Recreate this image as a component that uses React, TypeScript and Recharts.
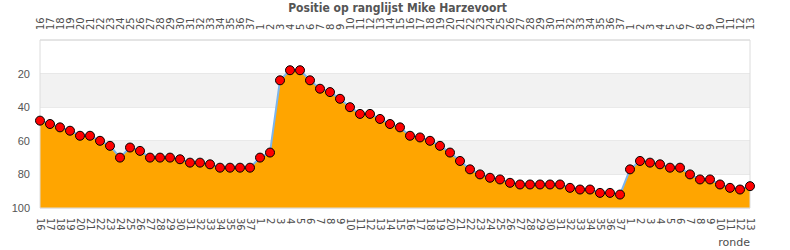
import {
  Area,
  AreaChart,
  CartesianGrid,
  ReferenceArea,
  XAxis,
  YAxis,
} from "recharts";

const TITLE = "Positie op ranglijst Mike Harzevoort";

// rounds per season, in order
const season1Rounds = [
  "16", "17", "18", "19", "20", "21", "22", "23", "24", "25", "26",
  "27", "28", "29", "30", "31", "32", "33", "34", "35", "36", "37",
];
const season2Rounds = [
  "1", "2", "3", "4", "5", "6", "7", "8", "9", "10", "11", "12", "13",
  "14", "15", "16", "17", "18", "19", "20", "21", "22", "23", "24", "25",
  "26", "27", "28", "29", "30", "31", "32", "33", "34", "35", "36", "37",
];
const season3Rounds = [
  "1", "2", "3", "4", "5", "6", "7", "8", "9", "10", "11", "12", "13",
];

// position on the ranking, per round
const season1Positions = [
  48, 50, 52, 54, 57, 57, 60, 63, 70, 64, 66, 70, 70, 70, 71, 73, 73, 74, 76,
  76, 76, 76,
];
const season2Positions = [
  70, 67, 24, 18, 18, 24, 29, 31, 35, 40, 44, 44, 47, 50, 52, 57, 58, 60, 63,
  67, 72, 77, 80, 82, 83, 85, 86, 86, 86, 86, 86, 88, 89, 89, 91, 91, 92,
];
const season3Positions = [77, 72, 73, 74, 76, 76, 80, 83, 83, 86, 88, 89, 87];

const yTicks = [0, 20, 40, 60, 80, 100];

const rounds = [...season1Rounds, ...season2Rounds, ...season3Rounds];
const positions = [...season1Positions, ...season2Positions, ...season3Positions];
const data = rounds.map((r, i) => ({ i, ronde: r, pos: positions[i] }));
const xTicks = data.map((d) => d.i);

const TICK_FONT = "'DejaVu Sans', sans-serif";
const AXIS_COLOR = "#dcdcdc";

function BottomTick(props: any) {
  const { x, y, payload } = props;
  return (
    <text
      x={x}
      y={y}
      dy="0.35em"
      transform={`rotate(90, ${x}, ${y})`}
      textAnchor="start"
      fontSize={10}
      fontFamily={TICK_FONT}
      fill="#4d4d4d"
    >
      {rounds[payload.value]}
    </text>
  );
}

function TopTick(props: any) {
  const { x, y, payload } = props;
  return (
    <text
      x={x}
      y={y}
      dy="0.35em"
      transform={`rotate(-90, ${x}, ${y})`}
      textAnchor="start"
      fontSize={10}
      fontFamily={TICK_FONT}
      fill="#4d4d4d"
    >
      {rounds[payload.value]}
    </text>
  );
}

function YTick(props: any) {
  const { x, y, payload, textAnchor } = props;
  if (payload.value === 0) return <g />;
  return (
    <text
      x={x}
      y={y}
      dy="0.355em"
      textAnchor={textAnchor}
      fontSize={11}
      fontFamily="'Liberation Sans', Arial, sans-serif"
      fill="#555"
    >
      {payload.value}
    </text>
  );
}

export default function App() {
  return (
    <div style={{ width: 790, height: 250, position: "relative", background: "#fff" }}>
      <style>{"body{margin:0}"}</style>
      <div
        style={{
          position: "absolute",
          top: 1,
          left: 0,
          width: 790,
          textAlign: "center",
          fontFamily: "'DejaVu Sans Condensed', 'DejaVu Sans', sans-serif",
          fontStretch: "condensed",
          fontWeight: "bold",
          fontSize: 12,
          color: "#555",
          paddingLeft: 5,
          boxSizing: "border-box",
        }}
      >
        {TITLE}
      </div>
      <AreaChart
        width={790}
        height={250}
        data={data}
        margin={{ top: 0, right: 0, bottom: 0, left: 0 }}
      >
        <ReferenceArea yAxisId="left" y1={20} y2={40} fill="#f2f2f2" fillOpacity={1} stroke="none" />
        <ReferenceArea yAxisId="left" y1={60} y2={80} fill="#f2f2f2" fillOpacity={1} stroke="none" />
        <CartesianGrid yAxisId="left" vertical={false} stroke={AXIS_COLOR} />
        <XAxis
          dataKey="i"
          type="number"
          domain={[0, 71]}
          ticks={xTicks}
          interval={0}
          height={42}
          tickSize={0}
          tickMargin={10}
          axisLine={{ stroke: AXIS_COLOR }}
          tickLine={false}
          tick={<BottomTick />}
          label={{
            value: "ronde",
            position: "insideBottomRight",
            offset: 0,
            dy: -4,
            fontSize: 11,
            fontFamily: TICK_FONT,
            fill: "#4d4d4d",
          }}
        />
        <XAxis
          xAxisId="top"
          orientation="top"
          dataKey="i"
          type="number"
          domain={[0, 71]}
          ticks={xTicks}
          interval={0}
          height={40}
          tickSize={0}
          tickMargin={10}
          axisLine={{ stroke: AXIS_COLOR }}
          tickLine={false}
          tick={<TopTick />}
        />
        <YAxis
          yAxisId="left"
          reversed
          domain={[0, 100]}
          ticks={yTicks}
          interval={0}
          width={40}
          tickSize={0}
          tickMargin={10}
          axisLine={{ stroke: AXIS_COLOR }}
          tickLine={false}
          tick={<YTick />}
        />
        <YAxis
          yAxisId="right"
          orientation="right"
          reversed
          domain={[0, 100]}
          ticks={yTicks}
          interval={0}
          width={40}
          tickSize={0}
          tickMargin={8}
          axisLine={{ stroke: AXIS_COLOR }}
          tickLine={false}
          tick={<YTick />}
        />
        <Area
          yAxisId="left"
          type="linear"
          dataKey="pos"
          baseValue={100}
          stroke="#7cb5ec"
          strokeWidth={2}
          fill="#ffa500"
          fillOpacity={1}
          dot={{ r: 4.5, fill: "#ff0000", stroke: "#000", strokeWidth: 1, fillOpacity: 1 }}
          activeDot={false}
          isAnimationActive={false}
        />
      </AreaChart>
    </div>
  );
}
